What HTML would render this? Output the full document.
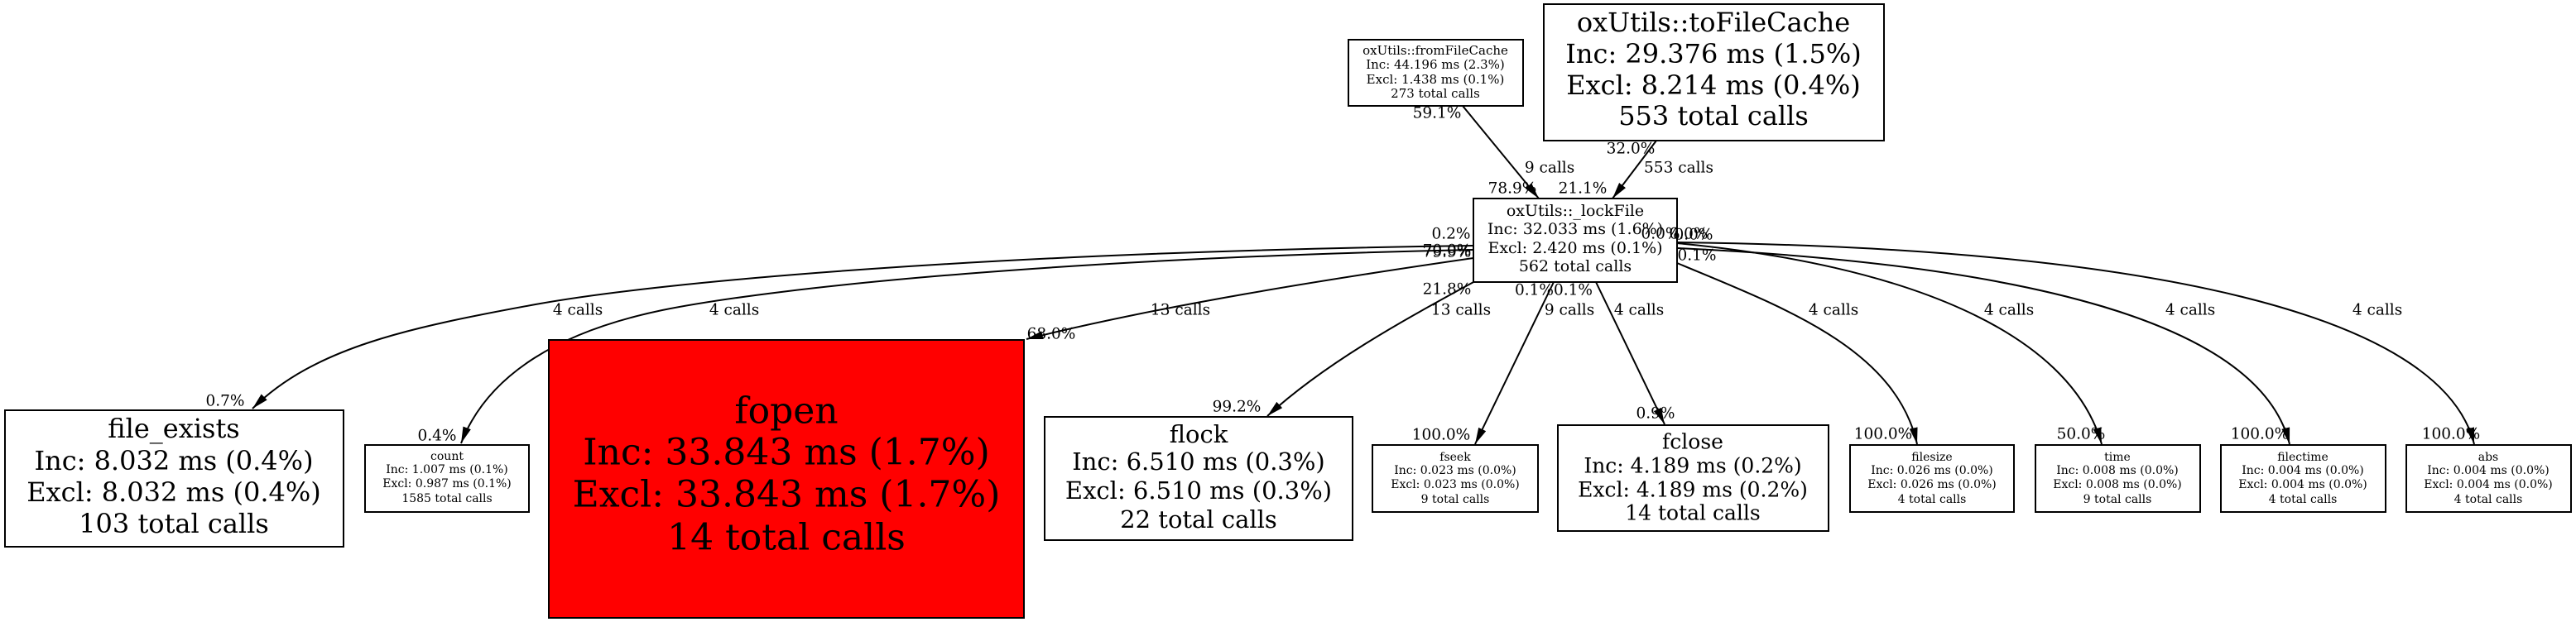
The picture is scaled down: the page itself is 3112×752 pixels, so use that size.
<!DOCTYPE html>
<html><head><meta charset="utf-8"><style>
html,body{margin:0;padding:0;background:#fff}
svg{display:block}
text{font-family:"DejaVu Serif","Liberation Serif",serif;fill:#000;text-anchor:middle;dominant-baseline:central}
.l{font-size:18.5px}
</style></head><body>
<svg width="3112" height="752" viewBox="0 0 3112 752" xmlns="http://www.w3.org/2000/svg">
<defs>
<marker id="a" viewBox="0 0 20 10" refX="20" refY="5" markerWidth="20" markerHeight="10" markerUnits="userSpaceOnUse" orient="auto">
<path d="M0,0 L20,5 L0,10 z" fill="#000"/>
</marker>
</defs>
<g fill="none" stroke="#000" stroke-width="2" marker-end="url(#a)">
<path d="M1767,128 L1859,240"/>
<path d="M2001,170 L1948,240"/>
<path d="M1780,297 C1200,305 800,340 647,368 S380,420 305,494"/>
<path d="M1780,302 C1300,312 950,345 800,375 C680,400 590,450 557,536"/>
<path d="M1780,312 C1600,338 1400,370 1240,410"/>
<path d="M1782,340 C1690,390 1600,440 1531,503"/>
<path d="M1877,341 L1782,537"/>
<path d="M1928,341 L2011,513"/>
<path d="M2026,318 C2150,370 2290,420 2316,537"/>
<path d="M2026,294 C2300,320 2500,400 2539,537"/>
<path d="M2026,300 C2450,320 2730,390 2766,537"/>
<path d="M2026,293 C2600,300 2950,380 2989,537"/>
</g>
<g stroke="#000" stroke-width="2">
<rect x="1629" y="48" width="211" height="80" fill="#fff"/>
<rect x="1865" y="5" width="411" height="165" fill="#fff"/>
<rect x="1780" y="240" width="246" height="101" fill="#fff"/>
<rect x="6" y="496" width="409" height="165" fill="#fff"/>
<rect x="441" y="538" width="198" height="81" fill="#fff"/>
<rect x="663" y="411" width="574" height="336" fill="#ff0000"/>
<rect x="1262" y="504" width="372" height="149" fill="#fff"/>
<rect x="1658" y="538" width="200" height="81" fill="#fff"/>
<rect x="1882" y="514" width="327" height="128" fill="#fff"/>
<rect x="2235" y="538" width="198" height="81" fill="#fff"/>
<rect x="2459" y="538" width="199" height="81" fill="#fff"/>
<rect x="2683" y="538" width="199" height="81" fill="#fff"/>
<rect x="2907" y="538" width="199" height="81" fill="#fff"/>
</g>
<g font-size="15"><text x="1734" y="61">oxUtils::fromFileCache</text><text x="1734" y="78">Inc: 44.196 ms (2.3%)</text><text x="1734" y="96">Excl: 1.438 ms (0.1%)</text><text x="1734" y="113">273 total calls</text></g>
<g font-size="32"><text x="2070" y="27">oxUtils::toFileCache</text><text x="2070" y="65">Inc: 29.376 ms (1.5%)</text><text x="2070" y="103">Excl: 8.214 ms (0.4%)</text><text x="2070" y="140">553 total calls</text></g>
<g font-size="19"><text x="1903" y="255">oxUtils::_lockFile</text><text x="1903" y="277">Inc: 32.033 ms (1.6%)</text><text x="1903" y="300">Excl: 2.420 ms (0.1%)</text><text x="1903" y="322">562 total calls</text></g>
<g font-size="32"><text x="210" y="518">file_exists</text><text x="210" y="557">Inc: 8.032 ms (0.4%)</text><text x="210" y="595">Excl: 8.032 ms (0.4%)</text><text x="210" y="633">103 total calls</text></g>
<g font-size="14"><text x="540" y="552">count</text><text x="540" y="568">Inc: 1.007 ms (0.1%)</text><text x="540" y="585">Excl: 0.987 ms (0.1%)</text><text x="540" y="603">1585 total calls</text></g>
<g font-size="44"><text x="950" y="497">fopen</text><text x="950" y="547">Inc: 33.843 ms (1.7%)</text><text x="950" y="598">Excl: 33.843 ms (1.7%)</text><text x="950" y="650">14 total calls</text></g>
<g font-size="29"><text x="1448" y="525">flock</text><text x="1448" y="558">Inc: 6.510 ms (0.3%)</text><text x="1448" y="593">Excl: 6.510 ms (0.3%)</text><text x="1448" y="628">22 total calls</text></g>
<g font-size="14"><text x="1758" y="553">fseek</text><text x="1758" y="569">Inc: 0.023 ms (0.0%)</text><text x="1758" y="586">Excl: 0.023 ms (0.0%)</text><text x="1758" y="604">9 total calls</text></g>
<g font-size="25"><text x="2045" y="534">fclose</text><text x="2045" y="563">Inc: 4.189 ms (0.2%)</text><text x="2045" y="592">Excl: 4.189 ms (0.2%)</text><text x="2045" y="620">14 total calls</text></g>
<g font-size="14"><text x="2334" y="553">filesize</text><text x="2334" y="569">Inc: 0.026 ms (0.0%)</text><text x="2334" y="586">Excl: 0.026 ms (0.0%)</text><text x="2334" y="604">4 total calls</text></g>
<g font-size="14"><text x="2558" y="553">time</text><text x="2558" y="569">Inc: 0.008 ms (0.0%)</text><text x="2558" y="586">Excl: 0.008 ms (0.0%)</text><text x="2558" y="604">9 total calls</text></g>
<g font-size="14"><text x="2782" y="553">filectime</text><text x="2782" y="569">Inc: 0.004 ms (0.0%)</text><text x="2782" y="586">Excl: 0.004 ms (0.0%)</text><text x="2782" y="604">4 total calls</text></g>
<g font-size="14"><text x="3006" y="553">abs</text><text x="3006" y="569">Inc: 0.004 ms (0.0%)</text><text x="3006" y="586">Excl: 0.004 ms (0.0%)</text><text x="3006" y="604">4 total calls</text></g>
<g class="l">
<text x="1736" y="137">59.1%</text><text x="1872" y="203">9 calls</text><text x="1827" y="228">78.9%</text>
<text x="1970" y="180">32.0%</text><text x="2028" y="203">553 calls</text><text x="1912" y="228">21.1%</text>
<text x="1753" y="283">0.2%</text><text x="1748" y="305">79.9%</text><text x="1748" y="303">70.0%</text>
<text x="2040" y="283">0.0%</text><text x="2046" y="284">0.0%</text><text x="2006" y="283">0.0%</text><text x="2050" y="309">0.1%</text>
<text x="1748" y="350">21.8%</text><text x="1877" y="351">0.1%0.1%</text>
<text x="698" y="375">4 calls</text><text x="887" y="375">4 calls</text><text x="1426" y="375">13 calls</text><text x="1765" y="375">13 calls</text>
<text x="1896" y="375">9 calls</text><text x="1980" y="375">4 calls</text>
<text x="2215" y="375">4 calls</text><text x="2427" y="375">4 calls</text><text x="2646" y="375">4 calls</text><text x="2872" y="375">4 calls</text>
<text x="1270" y="404">68.0%</text><text x="272" y="485">0.7%</text><text x="528" y="527">0.4%</text><text x="1494" y="492">99.2%</text>
<text x="1741" y="526">100.0%</text><text x="2000" y="500">0.9%</text><text x="2275" y="525">100.0%</text><text x="2514" y="525">50.0%</text><text x="2730" y="525">100.0%</text><text x="2961" y="525">100.0%</text>
</g>
</svg>
</body></html>
